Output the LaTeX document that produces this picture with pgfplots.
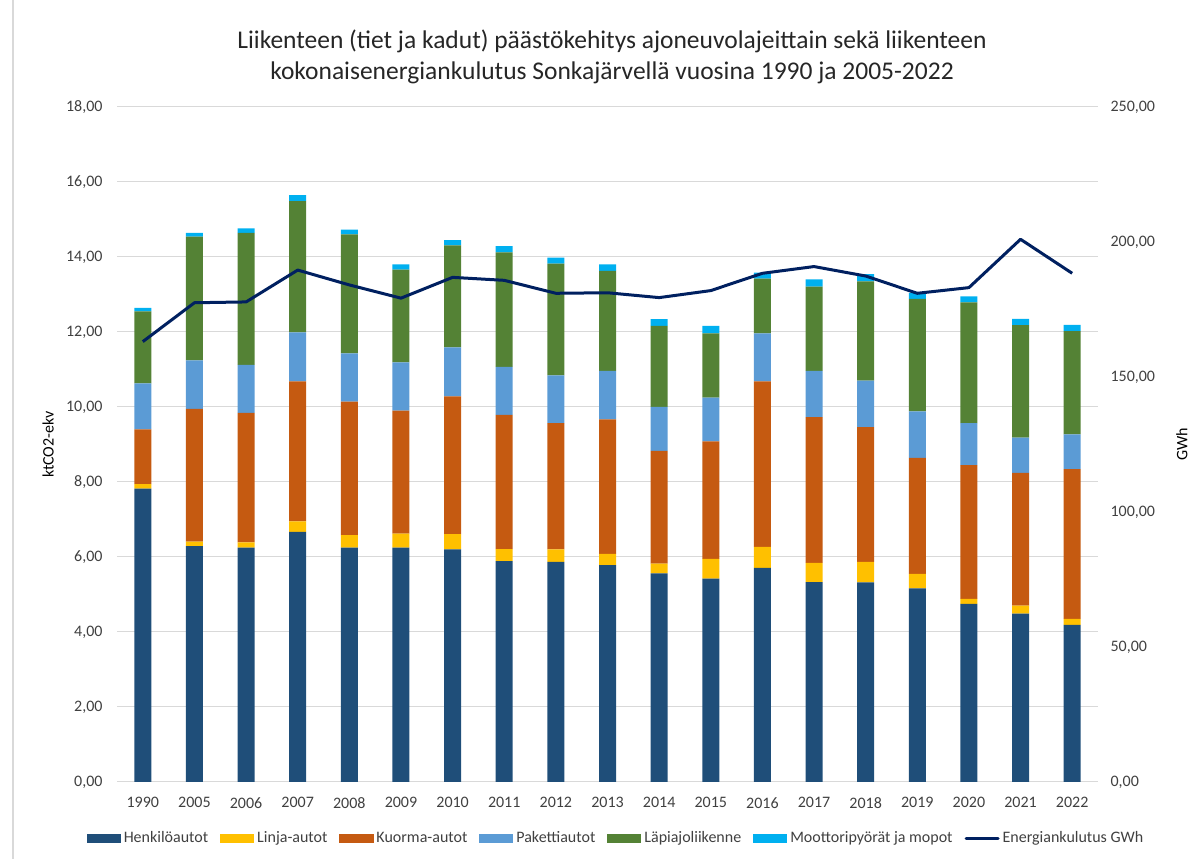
\documentclass[border=0pt]{standalone}
\usepackage{pgfplots}
\pgfplotsset{compat=1.18}
\usepackage{pgfplotstable}
\usepackage{fontspec}
\setmainfont{Carlito}

\definecolor{cH}{HTML}{1F4E79}
\definecolor{cL}{HTML}{FFC000}
\definecolor{cK}{HTML}{C55A11}
\definecolor{cP}{HTML}{5B9BD5}
\definecolor{cLa}{HTML}{548235}
\definecolor{cM}{HTML}{00B0F0}
\definecolor{cE}{HTML}{002060}
\definecolor{gridc}{HTML}{D9D9D9}
\definecolor{txt}{HTML}{404040}

\pgfplotstableread{
x  H    L    K    P    La   M    E
0  7.82 0.12 1.46 1.23 1.92 0.09 163.1
1  6.29 0.12 3.54 1.29 3.30 0.10 177.5
2  6.25 0.14 3.45 1.28 3.52 0.12 177.8
3  6.67 0.28 3.73 1.31 3.50 0.16 189.6
4  6.25 0.33 3.56 1.29 3.17 0.13 184.1
5  6.25 0.37 3.28 1.29 2.47 0.14 179.2
6  6.20 0.41 3.67 1.31 2.72 0.14 186.9
7  5.89 0.32 3.58 1.28 3.05 0.17 185.8
8  5.87 0.33 3.37 1.27 2.98 0.16 181.0
9  5.78 0.30 3.59 1.29 2.67 0.17 181.2
10 5.56 0.26 3.01 1.17 2.16 0.18 179.4
11 5.42 0.53 3.13 1.17 1.71 0.20 182.0
12 5.71 0.56 4.41 1.28 1.46 0.16 188.4
13 5.33 0.51 3.89 1.23 2.25 0.19 190.9
14 5.32 0.55 3.59 1.24 2.65 0.19 187.4
15 5.16 0.39 3.09 1.24 3.00 0.16 181.0
16 4.75 0.13 3.57 1.12 3.22 0.16 183.1
17 4.49 0.21 3.54 0.94 3.00 0.17 201.0
18 4.19 0.16 3.99 0.93 2.75 0.17 188.4
}\data

\pgfplotsset{
  barleg/.style={fill=#1, draw=none,
    legend image code/.code={\fill[#1] (0pt,-4.5pt) rectangle (34pt,4.5pt);}},
  numfmt/.style={/pgf/number format/fixed, /pgf/number format/fixed zerofill,
    /pgf/number format/precision=2, /pgf/number format/use comma,
    /pgf/number format/assume math mode=true},
}

\begin{document}
\begin{tikzpicture}
\path[use as bounding box] (0,0) rectangle (1197pt,859pt);
\draw[gridc, line width=1.2pt] (13pt,0pt) -- (13pt,859pt);
\node[font=\fontsize{25.5}{30.5}\selectfont, align=center, text=black!85] at (612pt,802pt)
  {Liikenteen (tiet ja kadut) päästökehitys ajoneuvolajeittain sekä liikenteen\\
   kokonaisenergiankulutus Sonkajärvellä vuosina 1990 ja 2005-2022};

\begin{axis}[
  at={(117pt,77pt)}, anchor=south west,
  width=981pt, height=675pt, scale only axis,
  ybar stacked, bar width=17pt,
  xmin=-0.5, xmax=18.5, ymin=0, ymax=18,
  xtick={0,...,18},
  xticklabels={1990,2005,2006,2007,2008,2009,2010,2011,2012,2013,2014,2015,2016,2017,2018,2019,2020,2021,2022},
  ytick={0,2,...,18},
  scaled y ticks=false,
  ymajorgrids, grid style={gridc, line width=1pt},
  axis x line*=bottom, axis y line*=left,
  x axis line style={gridc, line width=1pt, -},
  y axis line style={draw=none},
  tick style={draw=none},
  tick label style={font=\fontsize{16}{19}\selectfont, text=txt},
  yticklabel style={numfmt, xshift=-11pt},
  xticklabel style={yshift=-12pt},
  ylabel={ktCO2-ekv},
  ylabel style={at={(axis description cs:-0.0703,0.5)}, anchor=center,
    font=\fontsize{16}{19}\selectfont, text=black},
  legend columns=7,
  legend style={at={(axis description cs:0.5087,-0.083)}, anchor=center,
    draw=none, fill=none, font=\fontsize{16}{19}\selectfont, text=txt,
    /tikz/every odd column/.append style={column sep=1pt},
    /tikz/every even column/.append style={column sep=10pt}},
]
\addplot[barleg=cH]  table[x=x,y=H]{\data};  \addlegendentry{Henkilöautot}
\addplot[barleg=cL]  table[x=x,y=L]{\data};  \addlegendentry{Linja-autot}
\addplot[barleg=cK]  table[x=x,y=K]{\data};  \addlegendentry{Kuorma-autot}
\addplot[barleg=cP]  table[x=x,y=P]{\data};  \addlegendentry{Pakettiautot}
\addplot[barleg=cLa] table[x=x,y=La]{\data}; \addlegendentry{Läpiajoliikenne}
\addplot[barleg=cM]  table[x=x,y=M]{\data};  \addlegendentry{Moottoripyörät ja mopot}
\addlegendimage{legend image code/.code={\draw[cE, line width=3pt, line cap=round] (0pt,0pt) -- (32pt,0pt);}}
\addlegendentry{Energiankulutus GWh}
\end{axis}

\begin{axis}[
  at={(117pt,77pt)}, anchor=south west,
  width=981pt, height=675pt, scale only axis,
  xmin=-0.5, xmax=18.5, ymin=0, ymax=250,
  axis x line=none, axis y line*=right,
  y axis line style={draw=none},
  tick style={draw=none},
  ytick={0,50,...,250},
  scaled y ticks=false,
  tick label style={font=\fontsize{16}{19}\selectfont, text=txt},
  yticklabel style={numfmt, xshift=9pt},
  ylabel={GWh},
  ylabel style={at={(axis description cs:1.0856,0.5)}, anchor=center,
    font=\fontsize{16}{19}\selectfont, text=black},
]
\addplot[cE, line width=3pt, line join=round, mark=none] table[x=x,y=E]{\data};
\end{axis}
\end{tikzpicture}
\end{document}
